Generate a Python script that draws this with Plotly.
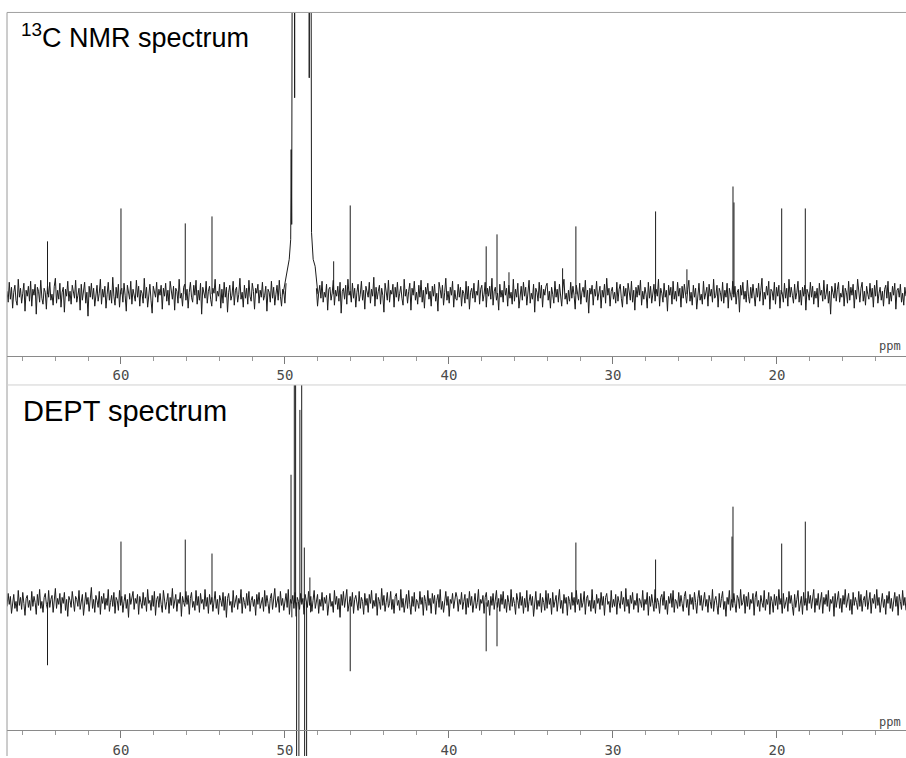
import numpy as np
import plotly.graph_objects as go

# ---------------- data ----------------
ppm_range = [66.95, 12.13]
tick_values = [60, 50, 40, 30, 20]
tick_labels = ["60", "50", "40", "30", "20"]

# 13C spectrum: peak positions (ppm) and heights (arbitrary units)
c13_ppm = [64.48, 60.00, 56.08, 54.45, 47.03, 46.02, 37.73, 37.07, 36.34,
           33.07, 32.26, 27.40, 25.49, 22.68, 22.62, 19.71, 18.27]
c13_int = [53, 86, 71, 78, 33, 89, 48, 60, 22, 26, 68, 83, 25, 108, 92, 86, 86]

# solvent (CD3OD) multiplet in 13C spectrum, goes off scale
meoh_c13_ppm = [50.12, 49.90, 49.74, 49.65, 49.62, 49.59, 49.53, 49.45, 49.41,
                49.38, 48.54, 48.52, 48.49, 48.43, 48.38, 48.28, 48.16, 47.99]
meoh_c13_int = [0, 22, 35, 55, 145, 70, 600, 600, 197, 600, 600, 217, 600, 600,
                62, 35, 28, 0]

# DEPT spectrum: peak positions (ppm) and heights (negative = CH2)
dept_ppm = [64.48, 60.00, 56.08, 54.45, 46.02, 37.73, 37.07, 32.26, 27.40,
            22.74, 22.68, 19.71, 18.27]
dept_int = [-63, 61, 63, 49, -69, -49, -44, 60, 43, 66, 96, 59, 81]

# solvent lines in DEPT spectrum (off scale both ways)
meoh_dept_ppm = [49.63, 49.58, 49.43, 49.35, 49.29, 49.15, 49.09, 48.98, 48.82,
                 48.80, 48.68, 48.48, 48.44]
meoh_dept_int = [128, -15, 600, 600, -600, -600, 193, 600, 55, -600, -600, 25, -10]

# baseline noise read (estimated) from the traces
c13_noise = [
    3, -8, 12, -5, 7, -14, 2, 9, -6, -11, 15, -3, 6, -9, 1, 11, -17, 4, -2, 8,
    -7, 13, -12, 5, -1, 10, -20, 7, 3, -8, 14, -4, -10, 6, 2, -15, 9, -3, 12, -6,
    0, -11, 8, 16, -9, 4, -5, 11, -13, 2, 7, -18, 5, -2, 13, -7, 3, -10, 9, 1,
    -4, 14, -8, -1, 6, -16, 10, -6, 4, 12, -9, 2, -22, 8, -3, 11, -5, 6, -12, 3,
    9, -7, 1, 15, -10, 5, -3, 8, -14, 0, 12, -6, 4, -9, 17, -2, -11, 7, -4, 10,
    -13, 3, 6, -8, 11, -1, -17, 9, 2, -5, 13, -10, 5, 0, -7, 14, -3, 8, -12, 4,
    1, -9, 16, -4, 7, -13, 3, 10, -6, -19, 8, 2, -3, 12, -8, 5, -1, 9, -15, 6,
    -2, 11, -7, 4, -11, 13, 0, -5, 8, -16, 6, 3, -9, 15, -4, 1, -12, 7, 10, -6,
    5, -14, 2, 12, -3, -8, 9, -1, 14, -10, 4, -6, 11, -20, 7, 0, -4, 13, -9, 3,
    8, -5, -12, 6, 1, 15, -7, 3, -2, 10, -14, 5, -9, 12, -3, 7, -18, 2, 9, -6,
    -1, 13, -11, 4, 7, -8, 0, 16, -5, 2, -13, 9, -4, 6, -10, 14, -2, -7, 11, 3,
    -15, 6, 1, 10, -9, 4, -3, 12, -6, -1, 8, -17, 5, 2, -8, 13, -4, 7, -11, 0,
    9, -6, 14, -2, -12, 5, 3, -9, 11, -4, 7, -21, 6, 1, -5, 10, -8, 15, -3, 2,
    -10, 7, -1, 12, -7, 4, -14, 8, 0, 11, -5, 3, -9, 16, -2, 6, -12, 1, 9, -4,
    13, -8, 2, -3, 10, -16, 5, 7, -6, 1, 14, -11, 4, -2, 8, -7, 12, -19, 3, 6,
    -5, 9, -10, 15, -1, 3, -8, 11, -4, 6, -13, 2, 10, -7, 0, 13, -6, 4, -15, 8,
    1, -3, 12, -9, 5, -2, 17, -12, 7, -5, 3, 9, -10, 6, -1, -18, 11, 2, -6, 14,
    -8, 4, 0, 10, -13, 7, -3, 12, -7, 1, 8, -4, -11, 15, -2, 5, -9, 3, 11, -16,
    6, -1, 13, -6, 2, -10, 9, -3, 14, -8, 4, -14, 7, 0, 11, -5, 3, -12, 8, -2,
    10, -7, 1, -17, 12, 5, -4, 9, -11, 2, 16, -6, 3, -9, 7, -1, 13, -13, 4, -5,
    -6, 10, -3, 7, -12, 4, 1, -9, 13, -5, 8, -15, 2, 6, -4, 11, -8, 3, -1, 14,
    -10, 5, 9, -7, 0, 12, -13, 6, -2, 8, -5, 16, -11, 3, 7, -6, 1, -16, 10, -3,
    4, -8, 13, -1, 6, -12, 9, -4, 2, -10, 15, -7, 5, -3, 11, -14, 0, 8, -6, 12,
    -2, 7, -11, 3, 14, -9, 1, -5, 10, -18, 6, 2, -7, 12, -4, 9, -13, 5, -1, 8,
    11, -6, 3, -14, 7, 0, -9, 13, -3, 5, -8, 10, -2, -12, 6, 15, -5, 1, -10, 4,
    -7, 12, -4, 8, -1, -15, 9, 3, -6, 11, -10, 2, 7, -3, 14, -8, 4, -19, 6, 0,
    9, -11, 5, -2, 13, -6, 1, 8, -14, 4, -3, 10, -9, 16, -1, 6, -12, 3, 7, -5,
    2, -9, 12, -7, 5, 10, -4, -13, 8, -2, 6, -10, 11, 1, -6, 13, -8, 4, -16, 7,
    -3, 9, -1, 14, -11, 3, -5, 7, 0, -14, 12, -4, 8, -9, 2, 10, -7, 5, -2, 15,
    -12, 6, 1, -8, 11, -3, 4, -17, 9, -1, 7, -10, 13, -5, 3, -7, 12, -2, 6, -13,
    8, -4, 10, -1, -9, 5, 14, -7, 2, -11, 9, -3, 6, -15, 4, 11, -6, 0, -10, 13,
    -5, 3, 7, -12, 10, -2, 5, -8, 15, -4, -1, 9, -13, 6, 2, -7, 12, -9, 4, -3,
    11, -14, 6, 0, -6, 13, -3, 8, -10, 2, 5, -18, 9, -1, 12, -5, 3, -8, 14, -2,
    -9, 7, -4, 10, 1, -12, 6, -3, 11, -7, 4, 16, -11, 2, -5, 8, -1, 13, -15, 5,
    3, -6, 12, -10, 7, -2, 9, -14, 4, 1, -8, 11, -4, 6, -12, 15, -3, 7, -1, -9,
    10, -5, 2, 13, -8, 4, -11, 7, -2, 9, -16, 5, 1, -6, 12, -3, 8, -10, 3, -4,
    6, -13, 11, -1, 4, -7, 14, -5, 0, 10, -9, 3, -20, 8, 2, -4, 11, -7, 5, 12,
    -8, 1, -3, 9, -12, 6, 2, -9, 13, -6, 7, -1, 10, -14, 4, -5, 15, -2, -8, 6,
    12, -7, 3, -11, 8, 0, -5, 11, -3, 6, -13, 9, -2, 14, -9, 1, 7, -6, 3, -12,
    5, 9, -4, 13, -10, 2, -7, 8, -1, 11, -15, 4, 6, -3, 10, -8, 1, -11, 7, -2,
]
dept_noise = [
    -4, 9, -2, 6, -11, 3, 8, -6, 1, -9, 12, -3, 5, -7, 10, -1, -13, 4, 7, -5,
    2, -8, 11, -4, 6, 0, -12, 8, -3, 13, -6, 1, -10, 5, 9, -2, -7, 12, -5, 3,
    7, -10, 1, 14, -6, 4, -2, 9, -11, 5, -1, 10, -8, 3, -14, 6, 2, -5, 11, -3,
    -9, 6, 3, -4, 12, -7, 0, 8, -13, 4, 10, -2, 5, -9, 1, 15, -6, 3, -10, 7,
    2, -5, 11, -12, 6, -1, 9, -7, 4, -3, 13, -9, 0, 7, -4, 10, -11, 5, 2, -8,
    12, -3, 6, -10, 1, 8, -6, 3, -15, 9, -2, 5, 11, -7, 4, -1, 8, -12, 6, 0,
    -6, 10, -3, 5, -9, 13, -1, 2, -8, 7, -4, 11, -13, 3, 6, -5, 9, -2, -10, 12,
    4, -7, 1, 9, -11, 5, -3, 14, -6, 2, 8, -9, 3, -1, 10, -14, 6, 0, -4, 11,
    -2, 7, -12, 4, 10, -5, 1, -8, 12, -3, 6, -10, 9, -1, 3, -7, 13, -4, 5, -11,
    8, -2, 5, -9, 0, 11, -6, 3, -12, 7, 2, -4, 10, -8, 6, -15, 4, 9, -3, 1,
    -10, 12, -5, 2, 7, -7, 4, -1, 13, -11, 5, 0, -6, 9, -3, 11, -9, 2, 6, -4,
    3, -13, 8, -2, 10, -6, 1, 5, -9, 12, -4, 7, -1, -11, 4, 9, -7, 2, 14, -5,
    0, 6, -10, 11, -3, 4, -8, 2, 9, -5, 13, -12, 3, -1, 7, -6, 10, -14, 5, 1,
    -7, 9, -2, 4, -12, 8, 1, -5, 11, -3, 6, -9, 2, 12, -6, 0, 8, -11, 3, -4,
    10, -8, 5, -1, 7, -13, 3, 9, -4, 1, -10, 12, -2, 6, -7, 4, -15, 8, -3, 11,
    -5, 2, 13, -9, 0, 6, -4, 10, -11, 3, 7, -2, -8, 11, -6, 5, 1, -12, 9, -3,
    4, -10, 8, -1, 12, -6, 2, -4, 9, -13, 5, 1, -7, 14, -3, 7, -9, 0, 10, -5,
    -1, 11, -7, 3, -11, 6, 9, -3, 2, -8, 13, -5, 4, -10, 1, 8, -6, 12, -2, -12,
    6, -4, 10, -9, 3, 0, -6, 11, -2, 5, -13, 7, 1, -8, 12, -3, 4, -11, 9, -1,
    7, -12, 2, 8, -5, 13, -7, 1, -10, 4, 11, -3, 6, -14, 3, -1, 9, -6, 2, 10,
    5, -9, 3, -2, 10, -7, 1, 8, -12, 4, -5, 11, -3, 6, -10, 2, 9, -6, 0, 13,
    -8, 3, -1, 7, -11, 5, 10, -4, 2, -13, 6, -3, 9, -7, 1, 12, -5, 4, -9, 8,
    -2, 11, -6, 3, -10, 7, 0, -8, 13, -4, 5, -1, -12, 9, 2, -6, 10, -3, 6, -11,
    4, -5, 12, -9, 1, 8, -3, 6, -14, 3, 11, -7, 2, -4, 9, -10, 5, 0, -8, 12,
    -6, 9, -2, 4, -12, 10, -5, 1, 7, -9, 3, 13, -6, 2, -11, 8, -1, 5, -13, 6,
    1, -7, 10, -3, 5, -10, 12, -2, 3, -8, 9, -5, 0, 11, -12, 4, 7, -4, 2, -9,
    13, -6, 2, -11, 8, -1, 4, -7, 10, -3, 6, -13, 5, 9, -2, 1, -10, 12, -5, 3,
    -4, 8, -12, 6, 0, -6, 11, -2, 5, -9, 14, -4, 3, -11, 7, -1, 10, -7, 2, -3,
    9, -10, 4, 1, -5, 12, -8, 3, -2, 10, -13, 6, -4, 8, -1, -9, 13, -6, 4, 0,
    -11, 5, 8, -3, 11, -7, 2, -12, 6, -1, 9, -5, 12, -10, 3, 1, -6, 10, -4, 7,
    -1, -9, 6, 11, -5, 3, -13, 8, -2, 5, -7, 10, 0, -11, 4, 12, -3, 7, -8, 2,
    10, -4, 3, -10, 7, 1, -6, 13, -9, 2, 6, -3, -12, 9, -5, 4, 11, -7, 1, -14,
    5, -2, 12, -8, 3, -5, 9, -1, -10, 7, 4, -6, 13, -3, 0, 8, -11, 6, -4, 10,
    -7, 3, -1, 9, -13, 5, 11, -4, 2, -9, 7, 0, -5, 12, -8, 3, -2, 10, -12, 6,
    1, -10, 8, -3, 6, -7, 13, -2, 4, -11, 9, -6, 2, 5, -9, 11, -1, 7, -4, -13,
    8, -5, 3, 12, -9, 0, 6, -12, 10, -3, 4, -8, 11, -1, 7, -6, 2, 13, -10, 4,
    -3, 9, -7, 1, 10, -11, 5, -2, 8, -4, 12, -9, 3, -1, 6, -14, 9, -5, 2, 11,
    -6, 4, -10, 7, -2, 13, -5, 1, 9, -8, 3, -12, 10, -3, 5, 0, -7, 11, -4, 8,
    -9, 2, 6, -4, 12, -7, 0, 10, -11, 4, -1, 8, -6, 13, -3, 5, -10, 2, 9, -5,
    3, -12, 7, -1, 11, -6, 4, -9, 2, 10, -4, 6, -13, 8, 1, -7, 12, -3, 5, -8,
]

# ---------------- build ----------------
TRACE = "#1c1c1c"
TICKFONT = dict(family="DejaVu Sans Mono", size=14, color="#4a4a4a")


def sticks(pos, hts):
    xs, ys = [], []
    for p, h in zip(pos, hts):
        xs += [p, p, None]
        ys += [0, h, None]
    return xs, ys


def noise_trace(vals, lo=None, hi=None):
    y = np.array(vals, dtype=float)
    x = np.linspace(ppm_range[0], ppm_range[1], len(y))
    if lo is not None:
        y[(x < hi) & (x > lo)] = np.nan
    return x, y


fig = go.Figure()
LINE = dict(color=TRACE, width=1)

# top panel
nx, ny = noise_trace(c13_noise, 48.1, 49.9)
fig.add_trace(go.Scatter(x=nx, y=ny, mode="lines", line=LINE,
                         xaxis="x", yaxis="y", hoverinfo="skip"))
sx, sy = sticks(c13_ppm, c13_int)
fig.add_trace(go.Scatter(x=sx, y=sy, mode="lines", line=LINE, xaxis="x", yaxis="y"))
fig.add_trace(go.Scatter(x=meoh_c13_ppm, y=meoh_c13_int, mode="lines", line=LINE,
                         xaxis="x", yaxis="y"))

# bottom panel
nx2, ny2 = noise_trace(dept_noise)
fig.add_trace(go.Scatter(x=nx2, y=ny2, mode="lines", line=LINE,
                         xaxis="x2", yaxis="y2", hoverinfo="skip"))
sx2, sy2 = sticks(dept_ppm, dept_int)
fig.add_trace(go.Scatter(x=sx2, y=sy2, mode="lines", line=LINE, xaxis="x2", yaxis="y2"))
mx2, my2 = sticks(meoh_dept_ppm, meoh_dept_int)
fig.add_trace(go.Scatter(x=mx2, y=my2, mode="lines", line=LINE, xaxis="x2", yaxis="y2"))

xaxis_common = dict(
    range=ppm_range, showgrid=False, zeroline=False,
    showline=True, linecolor="#8a8a8a", linewidth=1,
    ticks="outside", ticklen=7, tickwidth=1, tickcolor="#7a7a7a",
    tickvals=tick_values, ticktext=tick_labels, tickfont=TICKFONT,
    minor=dict(dtick=2, tick0=0, ticks="outside", ticklen=4, tickcolor="#9a9a9a",
               showgrid=False),
)
yaxis_common = dict(visible=False, showgrid=False, zeroline=False, fixedrange=True)

H = 758.0
fig.update_layout(
    width=906, height=758,
    margin=dict(l=7, r=0, t=0, b=0),
    paper_bgcolor="white", plot_bgcolor="white",
    showlegend=False,
    xaxis=dict(domain=[0, 1], anchor="y", **xaxis_common),
    yaxis=dict(domain=[(H - 356.5) / H, (H - 12.5) / H], range=[-61.5, 282.5],
               anchor="x", **yaxis_common),
    xaxis2=dict(domain=[0, 1], anchor="free", position=(H - 732) / H, **xaxis_common),
    yaxis2=dict(domain=[0, (H - 386) / H], range=[-154, 218], anchor="x2",
                **yaxis_common),
    shapes=[
        dict(type="line", xref="paper", yref="paper", x0=0, x1=0, y0=0,
             y1=(H - 12.5) / H, line=dict(color="#9a9a9a", width=1)),
        dict(type="line", xref="paper", yref="y domain", x0=0, x1=1, y0=1, y1=1,
             line=dict(color="#a0a0a0", width=1)),
        dict(type="line", xref="paper", yref="y2 domain", x0=0, x1=1, y0=1, y1=1,
             line=dict(color="#d0d0d0", width=1)),
    ],
    annotations=[
        dict(text="<sup>13</sup>C NMR spectrum", xref="paper", yref="paper",
             x=(19 - 7) / 899, y=(H - 36) / H, xanchor="left", yanchor="middle",
             showarrow=False, font=dict(family="Liberation Sans", size=27, color="#000")),
        dict(text="DEPT spectrum", xref="paper", yref="paper",
             x=(21 - 7) / 899, y=(H - 412) / H, xanchor="left", yanchor="middle",
             showarrow=False, font=dict(family="Liberation Sans", size=29, color="#000")),
        dict(text="ppm", xref="paper", yref="paper", x=1, xshift=-3,
             y=(H - 347) / H, xanchor="right", yanchor="middle", showarrow=False,
             font=dict(family="DejaVu Sans Mono", size=12, color="#4a4a4a")),
        dict(text="ppm", xref="paper", yref="paper", x=1, xshift=-3,
             y=(H - 724) / H, xanchor="right", yanchor="middle", showarrow=False,
             font=dict(family="DejaVu Sans Mono", size=12, color="#4a4a4a")),
    ],
)

fig.write_html("out.html")
